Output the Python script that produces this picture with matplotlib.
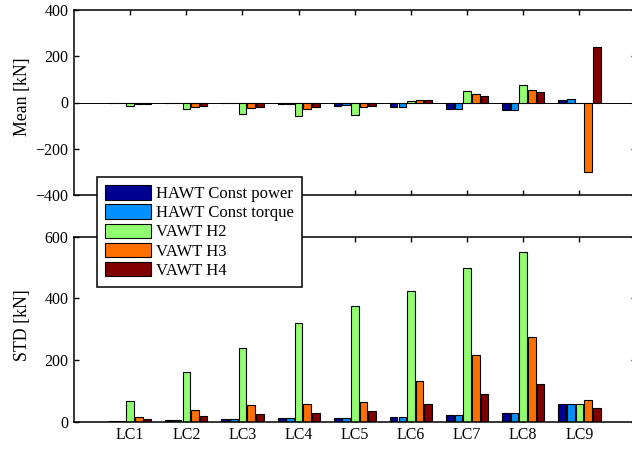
import numpy as np
import matplotlib
matplotlib.use('Agg')
import matplotlib.pyplot as plt

# load cases and series
cases = ['LC1', 'LC2', 'LC3', 'LC4', 'LC5', 'LC6', 'LC7', 'LC8', 'LC9']
series = ['HAWT Const power', 'HAWT Const torque', 'VAWT H2', 'VAWT H3', 'VAWT H4']
colors = ['#000090', '#0090ff', '#90ff70', '#ff7000', '#800000']

# mean load [kN]
mean_power = [-1, -2, -3, -7, -13, -19, -26, -32, 12]
mean_torque = [-1, -2, -3, -7, -12, -19, -26, -33, 13]
mean_h2 = [-13, -30, -48, -60, -53, 7, 49, 75, 0]
mean_h3 = [-8, -19, -24, -26, -20, 10, 35, 53, -302]
mean_h4 = [-8, -16, -20, -19, -14, 9, 30, 46, 242]

# standard deviation [kN]
std_power = [1, 6, 7, 11, 12, 16, 22, 28, 58]
std_torque = [1, 6, 7, 11, 12, 16, 22, 28, 58]
std_h2 = [65, 160, 240, 320, 375, 425, 498, 552, 57]
std_h3 = [15, 36, 52, 56, 62, 131, 217, 273, 69]
std_h4 = [8, 17, 23, 28, 35, 57, 90, 122, 45]

mean_all = [mean_power, mean_torque, mean_h2, mean_h3, mean_h4]
std_all = [std_power, std_torque, std_h2, std_h3, std_h4]

plt.rcParams['font.family'] = ['Liberation Serif', 'DejaVu Serif']
plt.rcParams['font.size'] = 11.5
plt.rcParams['axes.linewidth'] = 1.1
plt.rcParams['xtick.direction'] = 'in'
plt.rcParams['ytick.direction'] = 'in'
plt.rcParams['xtick.major.size'] = 3.5
plt.rcParams['ytick.major.size'] = 3.5
plt.rcParams['xtick.major.width'] = 1.0
plt.rcParams['ytick.major.width'] = 1.0

fig = plt.figure(figsize=(6.32, 4.49), dpi=100)
W, H = 632.0, 449.0
ax1 = fig.add_axes([74 / W, (H - 195) / H, 561.6 / W, 185 / H])
ax2 = fig.add_axes([74 / W, (H - 421.5) / H, 561.6 / W, 184.7 / H])

x = np.arange(1, len(cases) + 1)
step = 0.1538
width = 0.135


def grouped_bars(ax, data):
    handles = []
    for i, vals in enumerate(data):
        b = ax.bar(x + (i - 2) * step, vals, width, color=colors[i],
                   edgecolor='k', linewidth=0.8, label=series[i], zorder=2)
        handles.append(b)
    return handles


grouped_bars(ax1, mean_all)
handles = grouped_bars(ax2, std_all)

ax1.axhline(0, color='k', lw=0.7, zorder=3)
ax1.set_ylim(-400, 400)
ax1.set_yticks([-400, -200, 0, 200, 400])
ax1.set_xticks(x)
ax1.set_xticklabels([])
ax1.set_ylabel('Mean [kN]', fontsize=12.8)

ax2.set_ylim(0, 600)
ax2.set_yticks([0, 200, 400, 600])
ax2.set_xticks(x)
ax2.set_xticklabels(cases)
ax2.set_ylabel('STD [kN]', fontsize=12.8)

for ax in (ax1, ax2):
    ax.set_xlim(0, 10)
    ax.tick_params(top=True, right=True, pad=4)
ax1.yaxis.set_label_coords(-0.076, 0.53)
ax2.yaxis.set_label_coords(-0.076, 0.52)

leg = fig.legend(handles=handles, loc='upper left',
                 bbox_to_anchor=(97 / W, 1 - 177 / H), borderaxespad=0,
                 fancybox=False, edgecolor='k', framealpha=1,
                 handlelength=2.75, handleheight=0.95, handletextpad=0.3,
                 labelspacing=0.13, borderpad=0.5, fontsize=12)
leg.get_frame().set_linewidth(1.1)

plt.savefig('out.png', dpi=100)
